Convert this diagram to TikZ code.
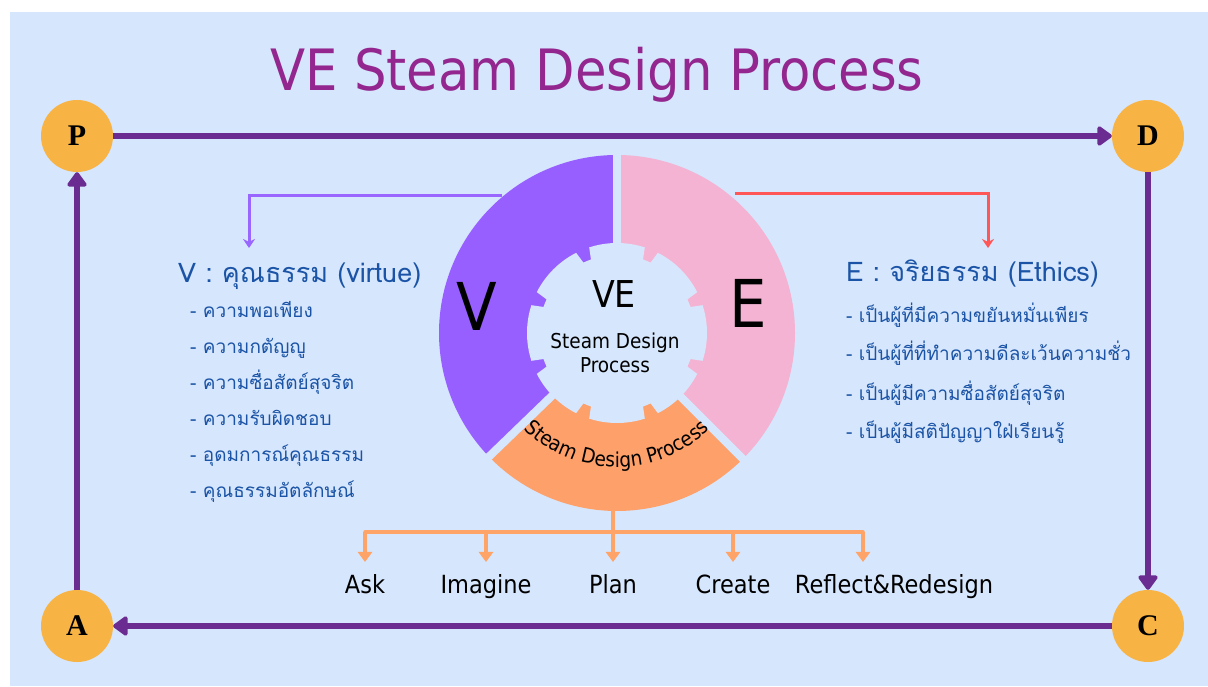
\documentclass[tikz,border=0pt]{standalone}
\usepackage{fontspec}
\usetikzlibrary{arrows.meta,decorations.text}
\newfontfamily\tah{DejaVu Sans Condensed}
\newfontfamily\thaifont[Script=Thai]{Loma}
\newfontfamily\serifb{Liberation Serif}
\definecolor{bgc}{HTML}{D6E6FC}
\definecolor{ctitle}{HTML}{93278F}
\definecolor{corange}{HTML}{F7B343}
\definecolor{cpurple}{HTML}{6B2C91}
\definecolor{cviolet}{HTML}{975FFF}
\definecolor{cpink}{HTML}{F4B3D3}
\definecolor{cseg}{HTML}{FDA06A}
\definecolor{carr}{HTML}{FFA468}
\definecolor{cvline}{HTML}{9966FF}
\definecolor{cred}{HTML}{FF5757}
\definecolor{tblue}{HTML}{1B54A6}
\begin{document}
\begin{tikzpicture}[x=1pt,y=1pt,
  pdca/.style={circle, fill=corange, minimum size=72pt, inner sep=0pt, font=\serifb\bfseries\fontsize{30}{30}\selectfont},
  bigarrow/.style={draw=cpurple, line width=6pt, -{Triangle[length=16pt,width=22pt,round]}},
  thaihead/.style={anchor=base west, inner sep=0pt, text=tblue, font=\thaifont\fontsize{27}{30}\selectfont},
  thaiitem/.style={anchor=base west, inner sep=0pt, text=tblue, font=\thaifont\fontsize{19}{22}\selectfont},
  bigletter/.style={font=\tah\fontsize{66}{66}\selectfont, inner sep=0pt},
  vconn/.style={draw=cvline, line width=3pt, -{Stealth[length=9pt,width=12pt]}},
  econn/.style={draw=cred, line width=3pt, -{Stealth[length=9pt,width=12pt]}},
  oline/.style={draw=carr, line width=3.5pt},
  oarrow/.style={draw=carr, line width=3.5pt, -{Triangle[length=10pt,width=14pt]}},
  stepname/.style={anchor=north, inner sep=0pt, text height=31pt, font=\tah\fontsize{25}{27}\selectfont}
]
\useasboundingbox (0,0) rectangle (1208,686);
\fill[white] (0,0) rectangle (1208,686);
\fill[bgc] (10,0) rectangle (1208,674);

% title
\node[text=ctitle, font=\tah\fontsize{57}{60}\selectfont] (title) at (597,611) {VE Steam Design Process};

% PDCA circles
\node[pdca] (P) at (77,550) {P};
\node[pdca] (D) at (1148,550) {D};
\node[pdca] (C) at (1148,60) {C};
\node[pdca] (A) at (77,60) {A};
\draw[bigarrow] (P) -- (D);
\draw[bigarrow] (D) -- (C);
\draw[bigarrow] (C) -- (A);
\draw[bigarrow] (A) -- (P);

% donut
\begin{scope}[shift={(617,353)}]
  \fill[cviolet] (0,0) -- (90:178pt) arc[start angle=90,end angle=224,radius=178pt] -- cycle;
  \fill[cseg] (0,0) -- (224:178pt) arc[start angle=224,end angle=315,radius=178pt] -- cycle;
  \fill[cpink] (0,0) -- (-45:178pt) arc[start angle=-45,end angle=90,radius=178pt] -- cycle;
  \foreach \g in {90,224,315} \draw[bgc, line width=8pt] (0,0) -- (\g:183pt);
  \fill[bgc] (-18:90pt) \foreach \a in {0,45,...,315}{
      arc[start angle=\a-18,end angle=\a+18,radius=90pt] -- (\a+19.5:78pt)
      arc[start angle=\a+19.5,end angle=\a+25.5,radius=78pt] -- (\a+27:90pt) } -- cycle;
  \path[decorate, decoration={text along path, text align=center,
      text={|\tah\fontsize{20.5}{24}\selectfont|Steam Design Process}}]
      (224:134pt) arc[start angle=224,end angle=316,radius=134pt];
\end{scope}
\node[font=\tah\fontsize{37}{37}\selectfont] (ve) at (614,392) {VE};
\node[align=center, font=\tah\fontsize{20.5}{24}\selectfont] (sdpc) at (615,333) {Steam Design\\Process};
\node[bigletter] (Vl) at (477,380) {V};
\node[bigletter] (El) at (748,383) {E};

% left text
\node[thaihead] (vh) at (178,403) {V : คุณธรรม (virtue)};
\node[thaiitem] (v1) at (190,368) {- ความพอเพียง};
\node[thaiitem] (v2) at (190,332) {- ความกตัญญู};
\node[thaiitem] (v3) at (190,296) {- ความซื่อสัตย์สุจริต};
\node[thaiitem] (v4) at (190,260) {- ความรับผิดชอบ};
\node[thaiitem] (v5) at (190,224) {- อุดมการณ์คุณธรรม};
\node[thaiitem] (v6) at (190,188) {- คุณธรรมอัตลักษณ์};

% right text
\node[thaihead] (eh) at (846,404) {E : จริยธรรม (Ethics)};
\node[thaiitem] (e1) at (846,363) {- เป็นผู้ที่มีความขยันหมั่นเพียร};
\node[thaiitem] (e2) at (846,325) {- เป็นผู้ที่ที่ทำความดีละเว้นความชั่ว};
\node[thaiitem] (e3) at (846,285) {- เป็นผู้มีความซื่อสัตย์สุจริต};
\node[thaiitem] (e4) at (846,247) {- เป็นผู้มีสติปัญญาใฝ่เรียนรู้};

% thin connectors
\coordinate (vstart) at (502,490);
\coordinate (vtip) at (249,438);
\coordinate (estart) at (735,492);
\coordinate (etip) at (988,438);
\draw[vconn] (vstart) -| (vtip);
\draw[econn] (estart) -| (etip);

% steps
\node[stepname] (ask) at (365,124) {Ask};
\node[stepname] (imagine) at (486,124) {Imagine};
\node[stepname] (plan) at (613,124) {Plan};
\node[stepname] (create) at (733,124) {Create};
\node[stepname] (refl) at (894,124) {Reflect\&Redesign};
\coordinate (reflin) at (863,124);
\coordinate (sdp) at (613,176);
\coordinate (bar) at (0,154);
\draw[oline] (sdp) -- (sdp |- bar);
\draw[oline, line cap=round] (ask |- bar) -- (reflin |- bar);
\foreach \n in {ask,imagine,plan,create,reflin}
  \draw[oarrow] (\n |- bar) -- (\n.north);
\end{tikzpicture}
\end{document}
